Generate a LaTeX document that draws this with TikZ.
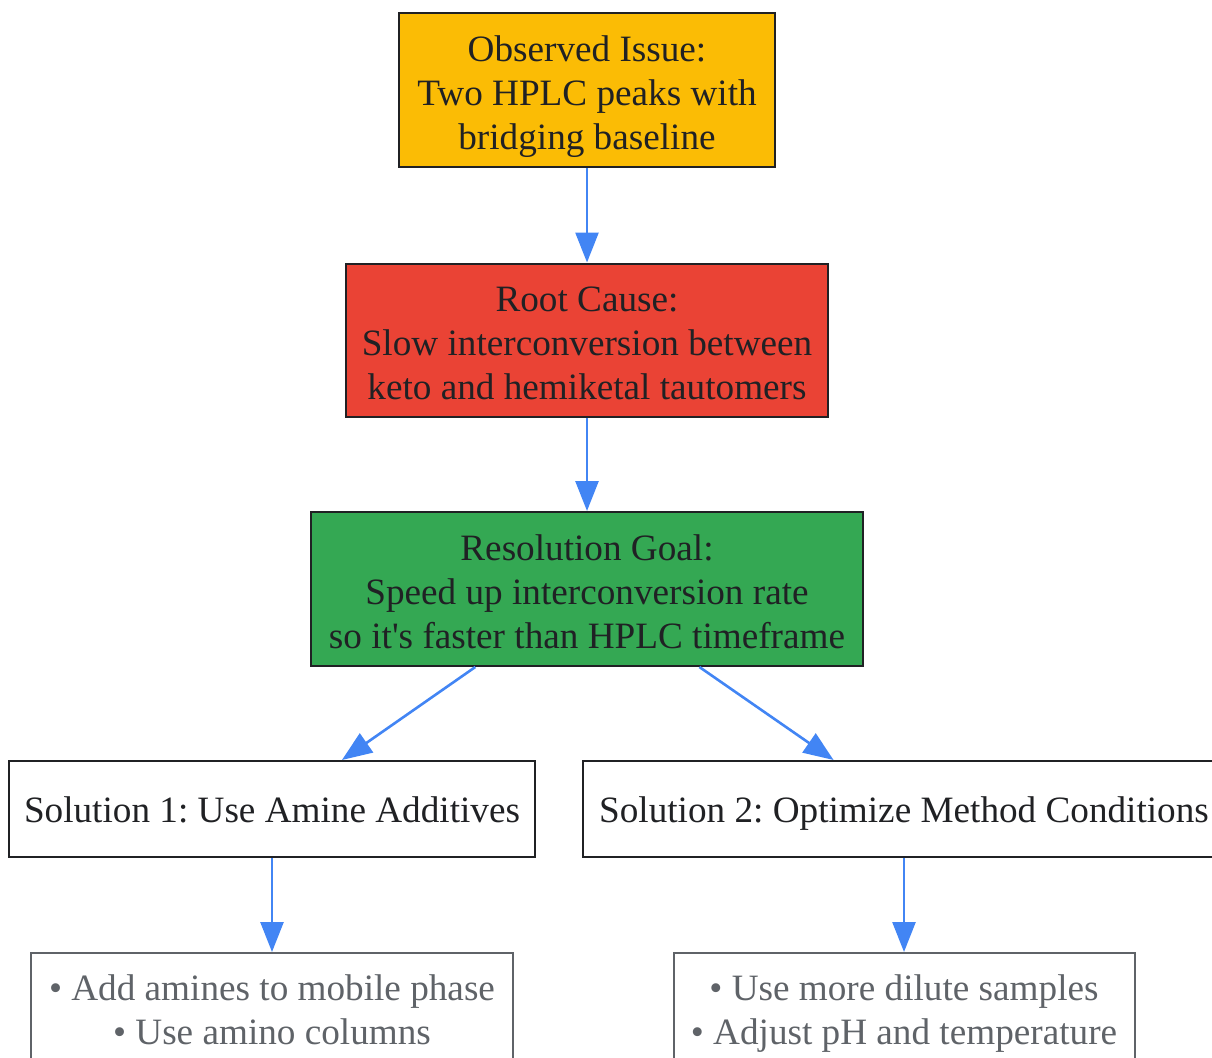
\documentclass[tikz,border=0pt]{standalone}
\usepackage{fontspec}
\setmainfont{Liberation Serif}
\usepackage{tikz}
\usetikzlibrary{arrows.meta}

\definecolor{IssueYellow}{HTML}{FBBC05}
\definecolor{CauseRed}{HTML}{EA4335}
\definecolor{GoalGreen}{HTML}{34A853}
\definecolor{FlowBlue}{HTML}{4285F4}
\definecolor{InkDark}{HTML}{202124}
\definecolor{TipGrey}{HTML}{5F6368}

\begin{document}
\frenchspacing
\begin{tikzpicture}[x=1pt, y=-1pt,
  box/.style={draw=InkDark, line width=2pt, text=InkDark, align=center,
    inner sep=0pt, text depth=4pt, font=\fontsize{37.2}{44}\selectfont},
  tipbox/.style={draw=TipGrey, line width=2pt, text=TipGrey, align=center,
    inner sep=0pt, text depth=4pt, font=\fontsize{37.2}{44}\selectfont},
  flow/.style={draw=FlowBlue, line width=2.6pt, -{Triangle[length=30pt, width=23pt]}}]
\useasboundingbox (0, 0) rectangle (1212, 1057);
\clip (0, 0) rectangle (1212, 1057);

\node[box, fill=IssueYellow, minimum width=376pt, minimum height=154pt, text height=122pt] (Obs) at (587, 90)
  {Observed Issue:\\Two HPLC peaks with\\bridging baseline};
\node[box, fill=CauseRed, minimum width=482pt, minimum height=153pt, text height=122pt] (Cause) at (587, 340)
  {Root Cause:\\Slow interconversion between\\keto and hemiketal tautomers};
\node[box, fill=GoalGreen, minimum width=552pt, minimum height=154pt, text height=122pt] (Goal) at (587, 589)
  {Resolution Goal:\\Speed up interconversion rate\\so it\textquotesingle s faster than HPLC timeframe};

\node[box, fill=white, minimum width=526pt, minimum height=96pt, text height=30pt] (SolA) at (272, 809)
  {Solution 1: Use Amine Additives};
\node[box, fill=white, minimum width=642pt, minimum height=96pt, text height=30pt] (SolB) at (904, 809)
  {Solution 2: Optimize Method Conditions};

\node[tipbox, minimum width=482pt, minimum height=110pt, text height=76pt] (TipsA) at (272, 1008)
  {• Add amines to mobile phase\\• Use amino columns};
\node[tipbox, minimum width=461pt, minimum height=110pt, text height=76pt] (TipsB) at (904, 1008)
  {• Use more dilute samples\\• Adjust pH and temperature};

\draw[flow] (Obs) -- (Cause);
\draw[flow] (Cause) -- (Goal);
\draw[flow] (Goal) -- (SolA);
\draw[flow] (Goal) -- (SolB);
\draw[flow] (SolA) -- (TipsA);
\draw[flow] (SolB) -- (TipsB);
\end{tikzpicture}
\end{document}
